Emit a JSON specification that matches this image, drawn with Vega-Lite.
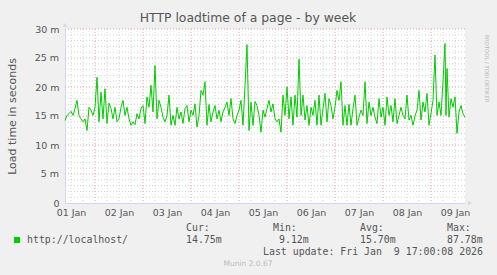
{
  "$schema": "https://vega.github.io/schema/vega-lite/v6.json",
  "width": 400,
  "height": 174,
  "autosize": {"type": "none"},
  "padding": {"left": 65, "top": 29, "right": 32, "bottom": 72},
  "background": "#F0F0F0",
  "view": {"fill": "#FFFFFF", "stroke": null},
  "title": {"text": "HTTP loadtime of a page - by week", "font": "DejaVu Sans", "fontSize": 12.4, "fontWeight": "normal", "color": "#555555", "anchor": "middle", "dx": -17, "offset": -1},
  "config": {
    "axis": {"labelFont": "DejaVu Sans", "labelFontSize": 9.5, "labelColor": "#555555", "domainColor": "#CFD6F8", "domainWidth": 1}
  },
  "datasets": {
    "xminor": [{"g":"2026-01-01T12:00"},{"g":"2026-01-01T18:00"},{"g":"2026-01-02T06:00"},{"g":"2026-01-02T12:00"},{"g":"2026-01-02T18:00"},{"g":"2026-01-03T06:00"},{"g":"2026-01-03T12:00"},{"g":"2026-01-03T18:00"},{"g":"2026-01-04T06:00"},{"g":"2026-01-04T12:00"},{"g":"2026-01-04T18:00"},{"g":"2026-01-05T06:00"},{"g":"2026-01-05T12:00"},{"g":"2026-01-05T18:00"},{"g":"2026-01-06T06:00"},{"g":"2026-01-06T12:00"},{"g":"2026-01-06T18:00"},{"g":"2026-01-07T06:00"},{"g":"2026-01-07T12:00"},{"g":"2026-01-07T18:00"},{"g":"2026-01-08T06:00"},{"g":"2026-01-08T12:00"},{"g":"2026-01-08T18:00"},{"g":"2026-01-09T06:00"},{"g":"2026-01-09T12:00"}],
    "xmajor": [{"g":"2026-01-02T00:00"},{"g":"2026-01-03T00:00"},{"g":"2026-01-04T00:00"},{"g":"2026-01-05T00:00"},{"g":"2026-01-06T00:00"},{"g":"2026-01-07T00:00"},{"g":"2026-01-08T00:00"},{"g":"2026-01-09T00:00"}],
    "yminor": [{"gy":1},{"gy":2},{"gy":3},{"gy":4},{"gy":6},{"gy":7},{"gy":8},{"gy":9},{"gy":11},{"gy":12},{"gy":13},{"gy":14},{"gy":16},{"gy":17},{"gy":18},{"gy":19},{"gy":21},{"gy":22},{"gy":23},{"gy":24},{"gy":26},{"gy":27},{"gy":28},{"gy":29}],
    "ymajor": [{"gy":5},{"gy":10},{"gy":15},{"gy":20},{"gy":25},{"gy":30}],
    "ylabels": [{"lv":5,"lt":"5 m"},{"lv":15,"lt":"15 m"},{"lv":25,"lt":"25 m"}]
  },
  "layer": [
    {"data": {"name": "xminor"}, "mark": {"type": "rule", "color": "#D4D4D4", "strokeWidth": 1, "strokeDash": [1, 2]}, "encoding": {"x": {"field": "g", "type": "temporal"}}},
    {"data": {"name": "yminor"}, "mark": {"type": "rule", "color": "#D4D4D4", "strokeWidth": 1, "strokeDash": [1, 2]}, "encoding": {"y": {"field": "gy", "type": "quantitative", "axis": {"values": [0, 5, 10, 15, 20, 25, 30], "labelExpr": "datum.value === 0 ? '0' : datum.value + ' m'", "labelPadding": 6, "labelFlush": false, "labelOverlap": false, "ticks": false, "grid": false, "title": "Load time in seconds", "titleFont": "DejaVu Sans", "titleFontSize": 11, "titleFontWeight": "normal", "titleColor": "#555555", "titlePadding": 17}}}},
    {"data": {"name": "xmajor"}, "mark": {"type": "rule", "color": "#E8A0A0", "strokeWidth": 1, "strokeDash": [1, 2]}, "encoding": {"x": {"field": "g", "type": "temporal"}}},
    {"data": {"name": "ymajor"}, "mark": {"type": "rule", "color": "#E8A0A0", "strokeWidth": 1, "strokeDash": [1, 2]}, "encoding": {"y": {"field": "gy", "type": "quantitative", "axis": {"values": [0, 5, 10, 15, 20, 25, 30], "labelExpr": "datum.value === 0 ? '0' : datum.value + ' m'", "labelPadding": 6, "labelFlush": false, "labelOverlap": false, "ticks": false, "grid": false, "title": "Load time in seconds", "titleFont": "DejaVu Sans", "titleFontSize": 11, "titleFontWeight": "normal", "titleColor": "#555555", "titlePadding": 17}}}},
    {
      "data": {"values": [
        {"t":"2026-01-01T09:00","v":14.25},{"t":"2026-01-01T10:00","v":15.1},{"t":"2026-01-01T11:00","v":15.4},{"t":"2026-01-01T12:00","v":15.8},{"t":"2026-01-01T13:00","v":15.1},{"t":"2026-01-01T14:00","v":16.3},{"t":"2026-01-01T15:00","v":17.7},{"t":"2026-01-01T16:00","v":15.1},{"t":"2026-01-01T17:00","v":14.5},{"t":"2026-01-01T18:00","v":14.0},{"t":"2026-01-01T19:00","v":14.5},{"t":"2026-01-01T20:00","v":12.5},{"t":"2026-01-01T21:00","v":16.5},{"t":"2026-01-01T22:00","v":16.0},{"t":"2026-01-01T23:00","v":15.1},
        {"t":"2026-01-02T00:00","v":16.5},{"t":"2026-01-02T01:00","v":21.7},{"t":"2026-01-02T02:00","v":14.0},{"t":"2026-01-02T03:00","v":19.1},{"t":"2026-01-02T04:00","v":14.5},{"t":"2026-01-02T05:00","v":19.7},{"t":"2026-01-02T06:00","v":13.7},{"t":"2026-01-02T07:00","v":17.2},{"t":"2026-01-02T08:00","v":16.3},{"t":"2026-01-02T09:00","v":14.5},{"t":"2026-01-02T10:00","v":16.5},{"t":"2026-01-02T11:00","v":14.0},{"t":"2026-01-02T12:00","v":14.5},{"t":"2026-01-02T13:00","v":16.5},{"t":"2026-01-02T14:00","v":17.7},{"t":"2026-01-02T15:00","v":15.1},{"t":"2026-01-02T16:00","v":16.5},{"t":"2026-01-02T17:00","v":14.5},{"t":"2026-01-02T18:00","v":13.4},{"t":"2026-01-02T19:00","v":14.0},{"t":"2026-01-02T20:00","v":13.5},{"t":"2026-01-02T21:00","v":15.4},{"t":"2026-01-02T22:00","v":14.5},{"t":"2026-01-02T23:00","v":16.3},
        {"t":"2026-01-03T00:00","v":16.8},{"t":"2026-01-03T01:00","v":13.7},{"t":"2026-01-03T02:00","v":18.3},{"t":"2026-01-03T03:00","v":16.5},{"t":"2026-01-03T04:00","v":20.3},{"t":"2026-01-03T05:00","v":15.7},{"t":"2026-01-03T06:00","v":23.7},{"t":"2026-01-03T07:00","v":14.5},{"t":"2026-01-03T08:00","v":17.7},{"t":"2026-01-03T09:00","v":16.5},{"t":"2026-01-03T10:00","v":14.8},{"t":"2026-01-03T11:00","v":14.0},{"t":"2026-01-03T12:00","v":15.1},{"t":"2026-01-03T13:00","v":18.6},{"t":"2026-01-03T14:00","v":13.4},{"t":"2026-01-03T15:00","v":15.1},{"t":"2026-01-03T16:00","v":13.4},{"t":"2026-01-03T17:00","v":16.5},{"t":"2026-01-03T18:00","v":14.5},{"t":"2026-01-03T19:00","v":15.7},{"t":"2026-01-03T20:00","v":13.7},{"t":"2026-01-03T21:00","v":16.3},{"t":"2026-01-03T22:00","v":16.8},{"t":"2026-01-03T23:00","v":14.0},
        {"t":"2026-01-04T00:00","v":16.0},{"t":"2026-01-04T01:00","v":15.1},{"t":"2026-01-04T02:00","v":17.1},{"t":"2026-01-04T03:00","v":13.1},{"t":"2026-01-04T04:00","v":15.1},{"t":"2026-01-04T05:00","v":19.4},{"t":"2026-01-04T06:00","v":18.6},{"t":"2026-01-04T07:00","v":20.9},{"t":"2026-01-04T08:00","v":13.4},{"t":"2026-01-04T09:00","v":17.0},{"t":"2026-01-04T10:00","v":14.0},{"t":"2026-01-04T11:00","v":15.7},{"t":"2026-01-04T12:00","v":16.8},{"t":"2026-01-04T13:00","v":14.5},{"t":"2026-01-04T14:00","v":16.0},{"t":"2026-01-04T15:00","v":14.0},{"t":"2026-01-04T16:00","v":15.7},{"t":"2026-01-04T17:00","v":16.5},{"t":"2026-01-04T18:00","v":17.4},{"t":"2026-01-04T19:00","v":15.1},{"t":"2026-01-04T20:00","v":18.0},{"t":"2026-01-04T21:00","v":14.5},{"t":"2026-01-04T22:00","v":13.7},{"t":"2026-01-04T23:00","v":15.1},
        {"t":"2026-01-05T00:00","v":16.0},{"t":"2026-01-05T01:00","v":17.7},{"t":"2026-01-05T02:00","v":13.4},{"t":"2026-01-05T03:00","v":20.3},{"t":"2026-01-05T04:00","v":27.3},{"t":"2026-01-05T05:00","v":12.5},{"t":"2026-01-05T06:00","v":17.4},{"t":"2026-01-05T07:00","v":13.4},{"t":"2026-01-05T08:00","v":17.5},{"t":"2026-01-05T09:00","v":16.8},{"t":"2026-01-05T10:00","v":15.1},{"t":"2026-01-05T11:00","v":12.2},{"t":"2026-01-05T12:00","v":16.0},{"t":"2026-01-05T13:00","v":14.8},{"t":"2026-01-05T14:00","v":16.3},{"t":"2026-01-05T15:00","v":17.7},{"t":"2026-01-05T16:00","v":15.7},{"t":"2026-01-05T17:00","v":17.1},{"t":"2026-01-05T18:00","v":14.5},{"t":"2026-01-05T19:00","v":14.0},{"t":"2026-01-05T20:00","v":14.5},{"t":"2026-01-05T21:00","v":12.2},{"t":"2026-01-05T22:00","v":18.6},{"t":"2026-01-05T23:00","v":15.1},
        {"t":"2026-01-06T00:00","v":20.0},{"t":"2026-01-06T01:00","v":14.5},{"t":"2026-01-06T02:00","v":18.3},{"t":"2026-01-06T03:00","v":13.4},{"t":"2026-01-06T04:00","v":18.6},{"t":"2026-01-06T05:00","v":14.8},{"t":"2026-01-06T06:00","v":24.8},{"t":"2026-01-06T07:00","v":15.1},{"t":"2026-01-06T08:00","v":18.6},{"t":"2026-01-06T09:00","v":14.3},{"t":"2026-01-06T10:00","v":16.8},{"t":"2026-01-06T11:00","v":13.4},{"t":"2026-01-06T12:00","v":16.5},{"t":"2026-01-06T13:00","v":15.1},{"t":"2026-01-06T14:00","v":17.7},{"t":"2026-01-06T15:00","v":13.4},{"t":"2026-01-06T16:00","v":18.6},{"t":"2026-01-06T17:00","v":13.4},{"t":"2026-01-06T18:00","v":16.3},{"t":"2026-01-06T19:00","v":18.9},{"t":"2026-01-06T20:00","v":14.0},{"t":"2026-01-06T21:00","v":18.0},{"t":"2026-01-06T22:00","v":16.8},{"t":"2026-01-06T23:00","v":14.5},
        {"t":"2026-01-07T00:00","v":16.5},{"t":"2026-01-07T01:00","v":19.4},{"t":"2026-01-07T02:00","v":17.7},{"t":"2026-01-07T03:00","v":20.9},{"t":"2026-01-07T04:00","v":13.4},{"t":"2026-01-07T05:00","v":16.8},{"t":"2026-01-07T06:00","v":13.4},{"t":"2026-01-07T07:00","v":17.0},{"t":"2026-01-07T08:00","v":13.4},{"t":"2026-01-07T09:00","v":16.3},{"t":"2026-01-07T10:00","v":18.6},{"t":"2026-01-07T11:00","v":13.4},{"t":"2026-01-07T12:00","v":14.8},{"t":"2026-01-07T13:00","v":16.0},{"t":"2026-01-07T14:00","v":15.1},{"t":"2026-01-07T15:00","v":20.9},{"t":"2026-01-07T16:00","v":13.7},{"t":"2026-01-07T17:00","v":17.4},{"t":"2026-01-07T18:00","v":15.1},{"t":"2026-01-07T19:00","v":16.5},{"t":"2026-01-07T20:00","v":14.8},{"t":"2026-01-07T21:00","v":13.7},{"t":"2026-01-07T22:00","v":18.0},{"t":"2026-01-07T23:00","v":14.8},
        {"t":"2026-01-08T00:00","v":16.5},{"t":"2026-01-08T01:00","v":13.4},{"t":"2026-01-08T02:00","v":18.3},{"t":"2026-01-08T03:00","v":15.1},{"t":"2026-01-08T04:00","v":16.8},{"t":"2026-01-08T05:00","v":14.0},{"t":"2026-01-08T06:00","v":18.0},{"t":"2026-01-08T07:00","v":13.7},{"t":"2026-01-08T08:00","v":15.1},{"t":"2026-01-08T09:00","v":16.5},{"t":"2026-01-08T10:00","v":15.1},{"t":"2026-01-08T11:00","v":14.5},{"t":"2026-01-08T12:00","v":18.6},{"t":"2026-01-08T13:00","v":14.3},{"t":"2026-01-08T14:00","v":15.1},{"t":"2026-01-08T15:00","v":13.4},{"t":"2026-01-08T16:00","v":15.0},{"t":"2026-01-08T17:00","v":16.0},{"t":"2026-01-08T18:00","v":19.4},{"t":"2026-01-08T19:00","v":14.3},{"t":"2026-01-08T20:00","v":17.4},{"t":"2026-01-08T21:00","v":15.7},{"t":"2026-01-08T22:00","v":18.9},{"t":"2026-01-08T23:00","v":13.4},
        {"t":"2026-01-09T00:00","v":15.4},{"t":"2026-01-09T01:00","v":17.7},{"t":"2026-01-09T02:00","v":25.5},{"t":"2026-01-09T03:00","v":15.1},{"t":"2026-01-09T04:00","v":17.4},{"t":"2026-01-09T05:00","v":15.1},{"t":"2026-01-09T06:00","v":20.9},{"t":"2026-01-09T07:00","v":27.5},{"t":"2026-01-09T07:30","v":15.1},{"t":"2026-01-09T08:00","v":23.2},{"t":"2026-01-09T09:00","v":14.8},{"t":"2026-01-09T10:00","v":18.0},{"t":"2026-01-09T11:00","v":16.5},{"t":"2026-01-09T12:00","v":18.3},{"t":"2026-01-09T13:00","v":12.0},{"t":"2026-01-09T14:00","v":15.7},{"t":"2026-01-09T15:00","v":16.8},{"t":"2026-01-09T16:00","v":15.4},{"t":"2026-01-09T17:00","v":14.75}
      ]},
      "mark": {"type": "line", "strokeWidth": 1, "color": "#00CC00"},
      "encoding": {
        "x": {
          "field": "t", "type": "temporal",
          "scale": {"domain": [{"year": 2026, "month": 1, "date": 1, "hours": 9}, {"year": 2026, "month": 1, "date": 9, "hours": 17}]},
          "axis": {
            "title": null,
            "values": [{"year": 2026, "month": 1, "date": 1, "hours": 12}, {"year": 2026, "month": 1, "date": 2, "hours": 12}, {"year": 2026, "month": 1, "date": 3, "hours": 12}, {"year": 2026, "month": 1, "date": 4, "hours": 12}, {"year": 2026, "month": 1, "date": 5, "hours": 12}, {"year": 2026, "month": 1, "date": 6, "hours": 12}, {"year": 2026, "month": 1, "date": 7, "hours": 12}, {"year": 2026, "month": 1, "date": 8, "hours": 12}, {"year": 2026, "month": 1, "date": 9, "hours": 12}],
            "format": "%d %b",
            "labelPadding": 4,
            "labelFlush": false,
            "labelOverlap": false,
            "ticks": false,
            "grid": false
          }
        },
        "y": {
          "field": "v", "type": "quantitative",
          "scale": {"domain": [0, 30], "nice": false},
          "axis": {"values": [0, 5, 10, 15, 20, 25, 30], "labelExpr": "datum.value === 0 ? '0' : datum.value + ' m'", "labelPadding": 6, "labelFlush": false, "labelOverlap": false, "ticks": false, "grid": false, "title": "Load time in seconds", "titleFont": "DejaVu Sans", "titleFontSize": 11, "titleFontWeight": "normal", "titleColor": "#555555", "titlePadding": 17}
        }
      }
    },
    {"data": {"name": "ylabels"}, "mark": {"type": "text", "font": "DejaVu Sans", "fontSize": 9.5, "color": "#555555", "align": "right", "baseline": "middle"}, "encoding": {"x": {"value": -6}, "y": {"field": "lv", "type": "quantitative"}, "text": {"field": "lt"}}},
    {"data": {"values": [{}]}, "mark": {"type": "point", "shape": "triangle-right", "size": 22, "filled": true, "color": "#CFD6F8", "opacity": 1}, "encoding": {"x": {"datum": {"year": 2026, "month": 1, "date": 9, "hours": 19, "minutes": 30}, "type": "temporal"}, "y": {"datum": 0, "type": "quantitative"}}},
    {"data": {"values": [{}]}, "mark": {"type": "point", "shape": "triangle-up", "size": 22, "filled": true, "color": "#CFD6F8", "opacity": 1}, "encoding": {"x": {"datum": {"year": 2026, "month": 1, "date": 1, "hours": 9}, "type": "temporal"}, "y": {"datum": 30.7, "type": "quantitative"}}},
    {"data": {"values": [{}]}, "mark": {"type": "square", "size": 36, "color": "#00CC00", "opacity": 1}, "encoding": {"x": {"value": -48}, "y": {"value": 211}}},
    {"data": {"values": [{}]}, "mark": {"type": "text", "text": "http://localhost/", "font": "DejaVu Sans Mono", "fontSize": 9.9, "color": "#555555", "align": "left", "baseline": "middle"}, "encoding": {"x": {"value": -38}, "y": {"value": 211}}},
    {"data": {"values": [{}]}, "mark": {"type": "text", "text": "Cur:", "font": "DejaVu Sans Mono", "fontSize": 9.9, "color": "#555555", "align": "left", "baseline": "middle"}, "encoding": {"x": {"value": 121}, "y": {"value": 198.5}}},
    {"data": {"values": [{}]}, "mark": {"type": "text", "text": "Min:", "font": "DejaVu Sans Mono", "fontSize": 9.9, "color": "#555555", "align": "left", "baseline": "middle"}, "encoding": {"x": {"value": 208}, "y": {"value": 198.5}}},
    {"data": {"values": [{}]}, "mark": {"type": "text", "text": "Avg:", "font": "DejaVu Sans Mono", "fontSize": 9.9, "color": "#555555", "align": "left", "baseline": "middle"}, "encoding": {"x": {"value": 295}, "y": {"value": 198.5}}},
    {"data": {"values": [{}]}, "mark": {"type": "text", "text": "Max:", "font": "DejaVu Sans Mono", "fontSize": 9.9, "color": "#555555", "align": "left", "baseline": "middle"}, "encoding": {"x": {"value": 382}, "y": {"value": 198.5}}},
    {"data": {"values": [{}]}, "mark": {"type": "text", "text": "14.75m", "font": "DejaVu Sans Mono", "fontSize": 9.9, "color": "#555555", "align": "left", "baseline": "middle"}, "encoding": {"x": {"value": 121}, "y": {"value": 211}}},
    {"data": {"values": [{}]}, "mark": {"type": "text", "text": "9.12m", "font": "DejaVu Sans Mono", "fontSize": 9.9, "color": "#555555", "align": "left", "baseline": "middle"}, "encoding": {"x": {"value": 214}, "y": {"value": 211}}},
    {"data": {"values": [{}]}, "mark": {"type": "text", "text": "15.70m", "font": "DejaVu Sans Mono", "fontSize": 9.9, "color": "#555555", "align": "left", "baseline": "middle"}, "encoding": {"x": {"value": 295}, "y": {"value": 211}}},
    {"data": {"values": [{}]}, "mark": {"type": "text", "text": "87.78m", "font": "DejaVu Sans Mono", "fontSize": 9.9, "color": "#555555", "align": "left", "baseline": "middle"}, "encoding": {"x": {"value": 382}, "y": {"value": 211}}},
    {"data": {"values": [{}]}, "mark": {"type": "text", "text": "Last update: Fri Jan \u00a09 17:00:08 2026", "font": "DejaVu Sans Mono", "fontSize": 9.9, "color": "#555555", "align": "right", "baseline": "middle"}, "encoding": {"x": {"value": 418}, "y": {"value": 222.5}}},
    {"data": {"values": [{}]}, "mark": {"type": "text", "text": "Munin 2.0.67", "font": "DejaVu Sans", "fontSize": 7.5, "color": "#BBBBBB", "align": "center", "baseline": "middle"}, "encoding": {"x": {"value": 183}, "y": {"value": 235}}},
    {"data": {"values": [{}]}, "mark": {"type": "text", "text": "RRDTOOL / TOBI OETIKER", "font": "DejaVu Sans", "fontSize": 5.3, "color": "#BBBBBB", "align": "center", "baseline": "middle", "angle": 90}, "encoding": {"x": {"value": 422}, "y": {"value": 39.5}}}
  ]
}
